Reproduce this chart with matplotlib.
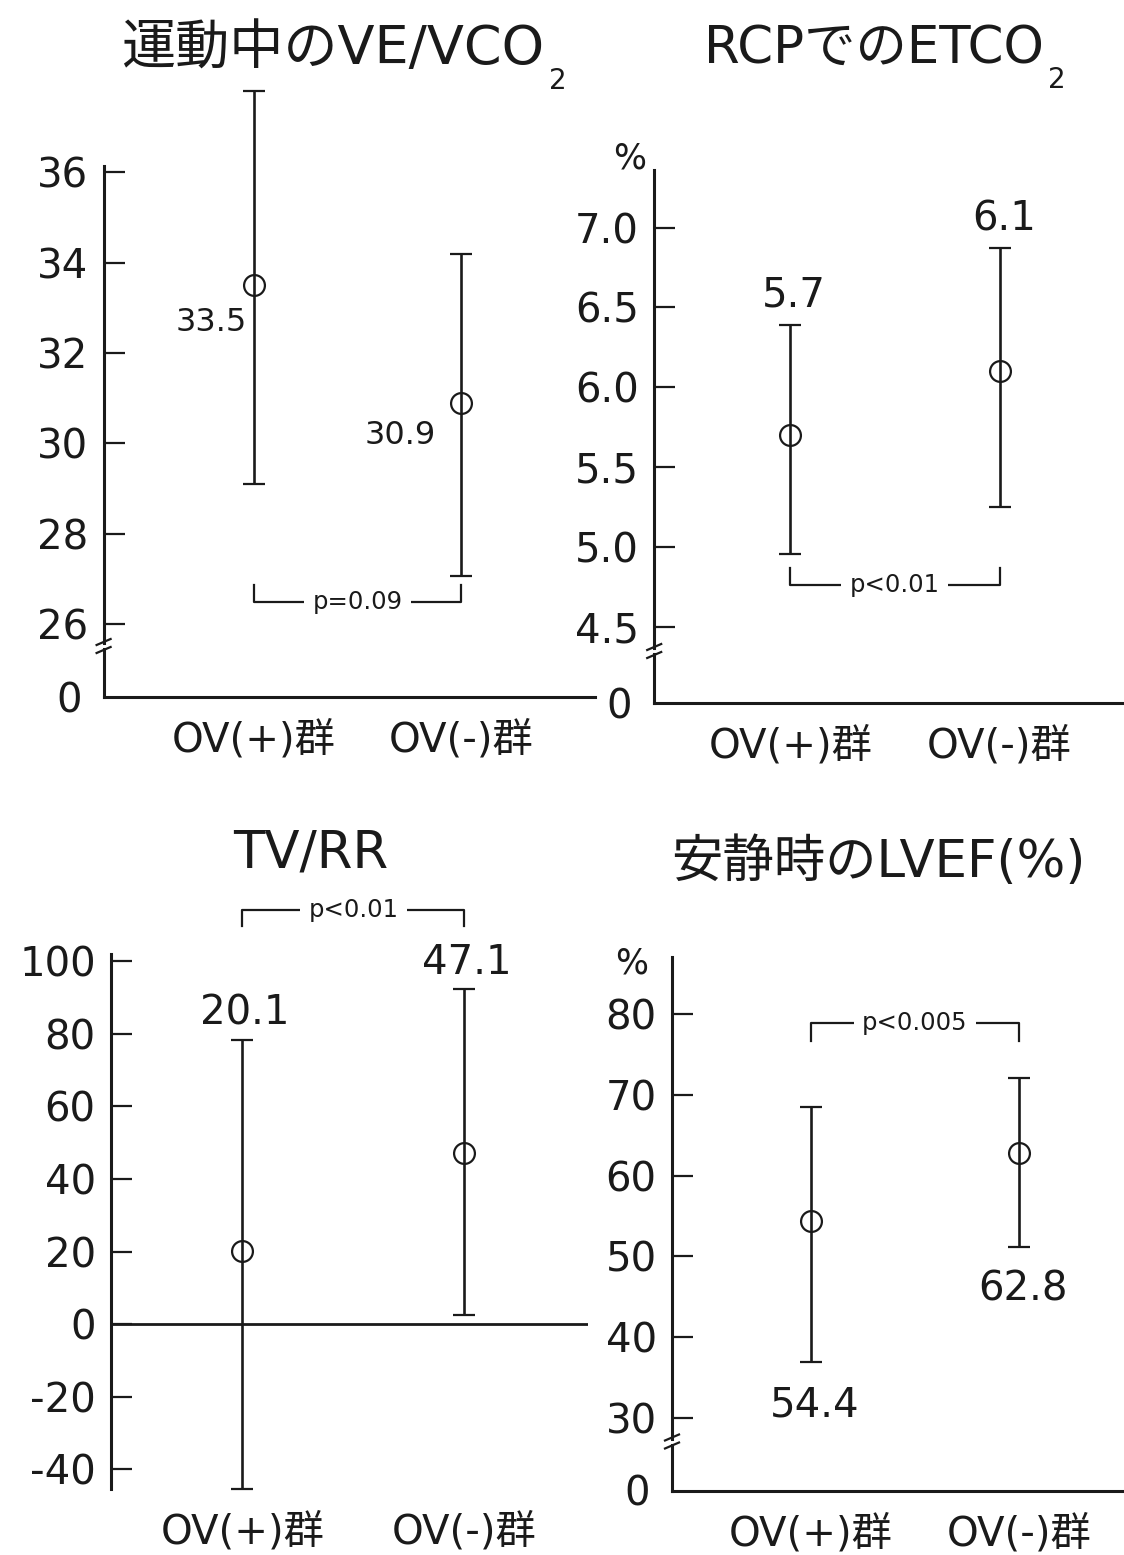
import matplotlib
matplotlib.use('Agg')
import matplotlib.pyplot as plt
from matplotlib.lines import Line2D

plt.rcParams['font.family'] = ['DejaVu Sans', 'Noto Sans CJK JP']

W, H = 1124, 1555
INK = '#1a1a1a'

groups = ['OV(+)群', 'OV(-)群']

# 運動中のVE/VCO2
ve_mean = [33.5, 30.9]
ve_low = [29.1, 27.05]
ve_high = [37.8, 34.2]
ve_ticks = [26, 28, 30, 32, 34, 36]
ve_tick_labels = ['26', '28', '30', '32', '34', '36']

# RCPでのETCO2 (%)
et_mean = [5.7, 6.1]
et_low = [4.96, 5.25]
et_high = [6.39, 6.87]
et_ticks = [4.5, 5.0, 5.5, 6.0, 6.5, 7.0]
et_tick_labels = ['4.5', '5.0', '5.5', '6.0', '6.5', '7.0']

# TV/RR
tv_mean = [20.1, 47.1]
tv_low = [-45.4, 2.4]
tv_high = [78.3, 92.3]
tv_ticks = [-40, -20, 0, 20, 40, 60, 80, 100]
tv_tick_labels = ['-40', '-20', '0', '20', '40', '60', '80', '100']

# 安静時のLVEF (%)
ef_mean = [54.4, 62.8]
ef_low = [36.9, 51.2]
ef_high = [68.5, 72.1]
ef_ticks = [30, 40, 50, 60, 70, 80]
ef_tick_labels = ['30', '40', '50', '60', '70', '80']

p_labels = ['p=0.09', 'p<0.01', 'p<0.01', 'p<0.005']

fig = plt.figure(figsize=(W / 100, H / 100), dpi=100)
fig.patch.set_facecolor('white')


def box(left, top, right, bottom):
    return [left / W, 1 - bottom / H, (right - left) / W, (bottom - top) / H]


def x_range(left, right, x0, x1):
    unit = x1 - x0
    return (left - x0) / unit, (right - x0) / unit


def y_scale(v_lo, p_lo, v_hi, p_hi):
    k = (v_hi - v_lo) / (p_lo - p_hi)
    return lambda py: v_hi - (py - p_hi) * k


def clean(ax):
    ax.patch.set_visible(False)
    for s in ['top', 'right', 'bottom']:
        ax.spines[s].set_visible(False)
    ax.spines['left'].set_linewidth(2.2)
    ax.spines['left'].set_color(INK)
    ax.tick_params(axis='y', direction='in', length=15, width=1.6, pad=11,
                   labelsize=29, colors=INK)
    ax.set_xticks([])


def category_labels(ax):
    ax.set_xticks([0, 1])
    ax.set_xticklabels(groups)
    ax.tick_params(axis='x', length=0, pad=17, labelsize=29, colors=INK)


def error_points(ax, mean, low, high):
    yerr = [[m - l for m, l in zip(mean, low)],
            [h - m for m, h in zip(mean, high)]]
    eb = ax.errorbar([0, 1], mean, yerr=yerr, fmt='o', ms=15, mfc='none',
                     mec=INK, mew=1.6, ecolor=INK, elinewidth=1.9,
                     capsize=8, capthick=1.9, zorder=3)
    eb.lines[0].set_clip_on(False)
    for art in list(eb.lines[1]) + list(eb.lines[2]):
        art.set_clip_on(False)


def bracket(ax, y_line, y_end, label):
    ax.plot([0, 0, 1, 1], [y_end, y_line, y_line, y_end], color=INK,
            lw=1.6, clip_on=False, zorder=2)
    ax.text(0.5, y_line, label, ha='center', va='center', fontsize=17.5,
            color=INK, zorder=4,
            bbox=dict(boxstyle='square,pad=0.35', fc='white', ec='none'))


def break_marks(xp, yp):
    for dy in (-4, 4):
        fig.add_artist(Line2D([(xp - 7) / W, (xp + 7) / W],
                              [1 - (yp + dy + 3) / H, 1 - (yp + dy - 3) / H],
                              color=INK, lw=1.6))


def value_labels(ax, xs, ys, texts, dx, dy, ha, size):
    for x, y, t in zip(xs, ys, texts):
        ax.annotate(t, xy=(x, y), xytext=(dx, dy), textcoords='offset points',
                    ha=ha, va='baseline', fontsize=size, color=INK,
                    annotation_clip=False)


def broken_panel(left, right, gx, top, brk, base, ticks, tick_labels,
                 v_lo, p_lo, v_hi, p_hi, spine_top):
    xl = x_range(left, right, *gx)
    val = y_scale(v_lo, p_lo, v_hi, p_hi)

    up = fig.add_axes(box(left, top, right, brk - 3))
    clean(up)
    up.set_xlim(xl)
    up.set_ylim(val(brk - 3), val(top))
    up.spines['left'].set_bounds(val(brk - 3), val(spine_top))
    up.set_yticks(ticks)
    up.set_yticklabels(tick_labels)

    lo = fig.add_axes(box(left, brk + 3, right, base))
    clean(lo)
    lo.spines['bottom'].set_visible(True)
    lo.spines['bottom'].set_linewidth(2.2)
    lo.spines['bottom'].set_color(INK)
    lo.set_xlim(xl)
    lo.set_ylim(0, 1)
    lo.set_yticks([0])
    lo.set_yticklabels(['0'])
    lo.tick_params(axis='y', length=0, pad=16)
    for lab in lo.get_yticklabels():
        lab.set_y(-0.2)
    category_labels(lo)

    break_marks(left, brk)
    return up


# --- 運動中のVE/VCO2 ---
ax1 = broken_panel(103.6, 595, (254, 461), 60, 646, 697.3,
                   ve_ticks, ve_tick_labels, 26, 623.8, 36, 172.5, 165.6)
error_points(ax1, ve_mean, ve_low, ve_high)
ax1.annotate(f'{ve_mean[0]}', xy=(0, ve_mean[0]), xytext=(-5.5, -33),
             textcoords='offset points', ha='right', va='baseline',
             fontsize=23, color=INK)
ax1.annotate(f'{ve_mean[1]}', xy=(1, ve_mean[1]), xytext=(-18, -30),
             textcoords='offset points', ha='right', va='baseline',
             fontsize=23, color=INK)
bracket(ax1, 26.49, 26.85, p_labels[0])

# --- RCPでのETCO2 ---
ax2 = broken_panel(654.2, 1124, (790.2, 999.6), 60, 651, 702.8,
                   et_ticks, et_tick_labels, 4.5, 627, 7.0, 227.6, 170)
error_points(ax2, et_mean, et_low, et_high)
value_labels(ax2, [0, 1], et_high, [f'{m}' for m in et_mean], 3, 13,
             'center', 29)
bracket(ax2, 4.765, 4.87, p_labels[1])
fig.text(630 / W, 1 - 158.7 / H, '%', ha='center', va='center',
         fontsize=25, color=INK)

# --- TV/RR ---
val3 = y_scale(-40, 1469.2, 100, 961.3)
ax3 = fig.add_axes(box(111, 890, 588, 1488.5))
clean(ax3)
ax3.set_xlim(x_range(111, 588, 242.3, 464.3))
ax3.set_ylim(val3(1488.5), val3(890))
ax3.spines['left'].set_bounds(val3(1488.5), val3(954))
ax3.set_yticks(tv_ticks)
ax3.set_yticklabels(tv_tick_labels)
category_labels(ax3)
ax3.axhline(0, color=INK, lw=2.0, zorder=1)
error_points(ax3, tv_mean, tv_low, tv_high)
value_labels(ax3, [0, 1], tv_high, [f'{m}' for m in tv_mean], 2, 11,
             'center', 29)
bracket(ax3, 114.2, 109.7, p_labels[2])

# --- 安静時のLVEF(%) ---
ax4 = broken_panel(672, 1124, (810.7, 1019), 890, 1441.5, 1490.5,
                   ef_ticks, ef_tick_labels, 30, 1417.7, 80, 1014.3, 956.5)
error_points(ax4, ef_mean, ef_low, ef_high)
value_labels(ax4, [0, 1], ef_low, [f'{m}' for m in ef_mean], 3, -39,
             'center', 29)
bracket(ax4, 78.9, 76.7, p_labels[3])
fig.text(632 / W, 1 - 963.7 / H, '%', ha='center', va='center',
         fontsize=25, color=INK)

# titles, with the CO2 subscript hung off the end of each string
t1 = fig.text(333 / W, 1 - 64 / H, '運動中のVE/VCO', ha='center',
              va='baseline', fontsize=39, color=INK)
t2 = fig.text(873.5 / W, 1 - 63 / H, 'RCPでのETCO', ha='center',
              va='baseline', fontsize=37, color=INK)
for t in (t1, t2):
    ax1.annotate('2', xy=(1, 0), xycoords=t, xytext=(3, 6),
                 textcoords='offset points', ha='left', va='top',
                 fontsize=20, color=INK, annotation_clip=False)
fig.text(310.8 / W, 1 - 867 / H, 'TV/RR', ha='center', va='baseline',
         fontsize=37, color=INK)
fig.text(878 / W, 1 - 877 / H, '安静時のLVEF(%)', ha='center',
         va='baseline', fontsize=37, color=INK)

fig.savefig('out.png', dpi=100, facecolor='white')
